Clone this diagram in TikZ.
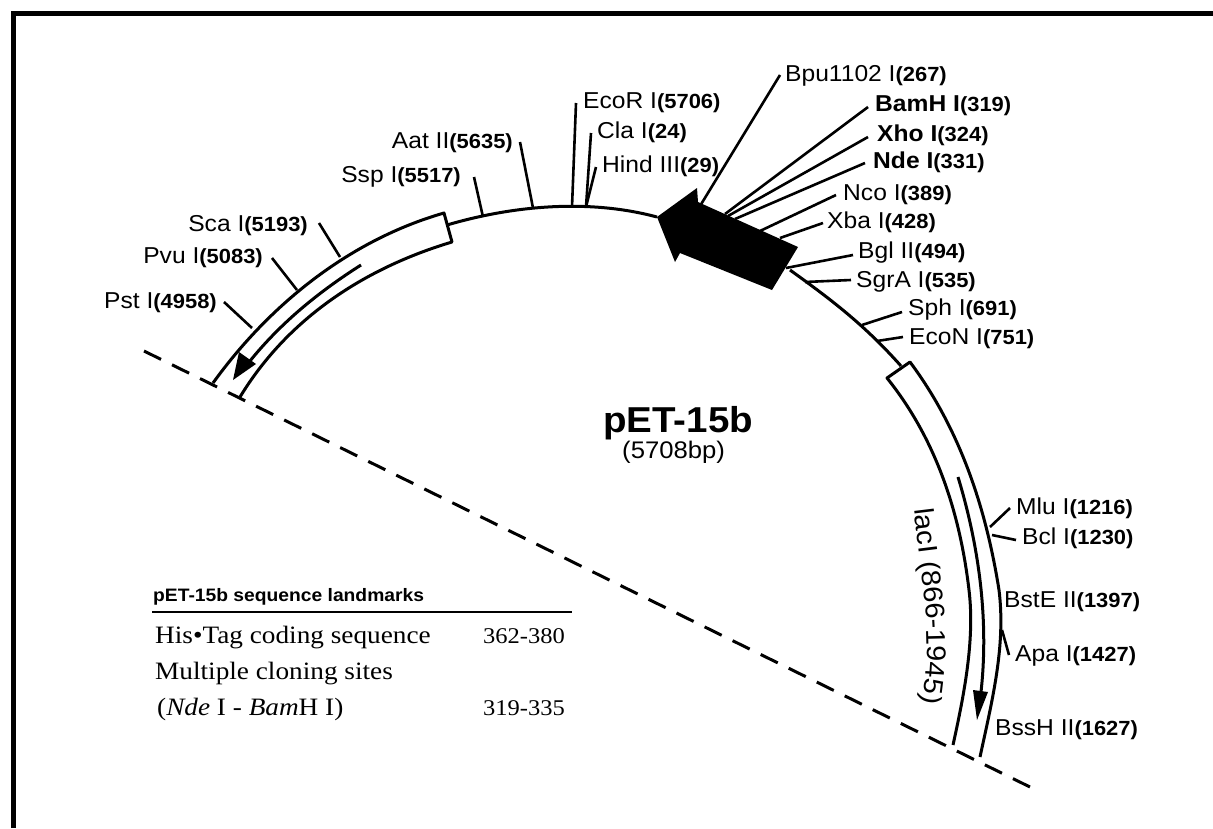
\documentclass[tikz,border=0pt]{standalone}
\usepackage{fontspec}
\setmainfont[FakeStretch=1.07]{Liberation Sans}
\newfontfamily\tablefont[FakeStretch=1.09]{Liberation Serif}
\usetikzlibrary{decorations.text}
\newcommand{\sitelabel}[2]{\fontsize{23}{25}\selectfont{#1}\fontsize{20.5}{25}\selectfont\bfseries(#2)}
\tikzset{
	sitelbl/.style={inner sep=0pt,text=black},
	sitetick/.style={line width=2.6pt},
	backbone/.style={line width=3pt,line join=round},
	tablerow/.style={inner sep=0pt,anchor=base west,font=\tablefont\fontsize{25}{27}\selectfont},
	tablenum/.style={inner sep=0pt,anchor=base west,font=\tablefont\fontsize{22.5}{27}\selectfont}
}
\begin{document}
\begin{tikzpicture}[x=1pt,y=-1pt]
	\useasboundingbox (0,0) rectangle (1213,828);
	\fill[white] (0,0) rectangle (1213,828);
	\draw[line width=4.5pt] (13.5,828)--(13.5,13.5)--(1213,13.5);
	% backbone
	\draw[backbone] (447,225) .. controls (515,205) and (590,199) .. (657,217);
	\draw[backbone] (790,270) .. controls (826,296) and (862,322) .. (901,366);
	% left box
	\draw[backbone] (213,383) .. controls (270,304) and (350,240) .. (444,213)
		-- (452,242) .. controls (365,268) and (288,318) .. (240,397);
	\draw[backbone] (361,265) .. controls (317,293) and (278,325) .. (246,366);
	\fill (233,380)--(239,352)--(256,364)--cycle;
	% right box
	\draw[backbone] (980,757) .. controls (992,701) and (1006,646) .. (999,590)
		.. controls (986,508) and (960,429) .. (910,362) -- (887,378)
		.. controls (936,439) and (960,513) .. (969,590)
		.. controls (975,640) and (964,695) .. (953,745);
	\draw[backbone] (958,477) .. controls (979,546) and (989,620) .. (981,692);
	\fill (977,720)--(973,690)--(988,692)--cycle;
	% arrow
	\fill (657,217)--(697,188)--(698,202)--(798,247)--(772,290)--(680,253)--(675,262)--cycle;
	% dashed line
	\draw[line width=3pt,dash pattern=on 19pt off 12.24pt] (144,351)--(1030,787);
	% sites
	\foreach \i/\ax/\ay/\bx/\by/\lx/\ly/\t/\nn in {
		bpu/700/206/780/75/785/81/{Bpu1102 I}/267,
		bam/725/214/868/107/875/111/{\bfseries BamH I}/319,
		xho/728/216/868/137/877/141/{\bfseries Xho I}/324,
		nde/735/219/865/163/873/168/{\bfseries Nde I}/331,
		nco/760/231/836/195/843/200/{Nco I}/389,
		xba/780/238/823/223/827/228/{Xba I}/428,
		bgl/786/268/853/255/858/258/{Bgl II}/494,
		sgr/805/282/851/280/856/287/{SgrA I}/535,
		sph/862/325/902/312/908/315/{Sph I}/691,
		eco/877/341/903/337/909/344/{EcoN I}/751,
		ecr/572/207/576/103/583/108/{EcoR I}/5706,
		cla/586/207/591/133/597/138/{Cla I}/24,
		hin/586/207/596/167/602/172/{Hind III}/29,
		mlu/990/527/1010/508/1016/514/{Mlu I}/1216,
		bcl/992/535/1016/540/1022/544/{Bcl I}/1230,
		apa/1002/630/1009/655/1015/661/{Apa I}/1427} {
		\node[sitelbl,anchor=base west] (\i) at (\lx,\ly) {\sitelabel{\t}{\nn}};
		\draw[sitetick] (\ax,\ay) coordinate (\i-a) -- (\bx,\by) coordinate (\i-b);
	}
	\foreach \i/\ax/\ay/\bx/\by/\lx/\ly/\t/\nn in {
		aat/533/208/520/142/513/148/{Aat II}/5635,
		ssp/483/217/474/177/461/182/{Ssp I}/5517,
		sca/340/257/319/223/308/231/{Sca I}/5193,
		pvu/297/290/272/258/263/263/{Pvu I}/5083,
		pst/252/328/224/302/217/308/{Pst I}/4958} {
		\node[sitelbl,anchor=base east] (\i) at (\lx,\ly) {\sitelabel{\t}{\nn}};
		\draw[sitetick] (\ax,\ay) coordinate (\i-a) -- (\bx,\by) coordinate (\i-b);
	}
	\node[sitelbl,anchor=base west] (bst) at (1004,607) {\sitelabel{BstE II}{1397}};
	\node[sitelbl,anchor=base west] (bss) at (995,735) {\sitelabel{BssH II}{1627}};
	% title
	\node[inner sep=0pt,anchor=base west] (name) at (603,432) {\fontsize{36}{40}\selectfont\bfseries pET-15b};
	\node[inner sep=0pt,anchor=base west] (size) at (622,458) {\fontsize{24}{26}\selectfont(5708bp)};
	% lacI
	\path[decorate,decoration={text along path,text align=center,
		text={|\fontsize{27}{29}\selectfont|lacI (866-1945)}}]
		(913,500) .. controls (921,570) and (936,650) .. (920,712);
	% table
	\node[inner sep=0pt,anchor=base west] (head) at (153,601) {\fontsize{18}{20}\selectfont\bfseries pET-15b sequence landmarks};
	\draw[line width=2pt] (152,612)--(572,612);
	\node[tablerow] (his) at (155,643) {His\textbullet Tag coding sequence};
	\node[tablenum] (his-r) at (483,643) {362-380};
	\node[tablerow] (mcs) at (155,679) {Multiple cloning sites};
	\node[tablerow] (nde-t) at (157,715) {(\textit{Nde} I - \textit{Bam}H I)};
	\node[tablenum] (nde-r) at (483,715) {319-335};
\end{tikzpicture}
\end{document}
